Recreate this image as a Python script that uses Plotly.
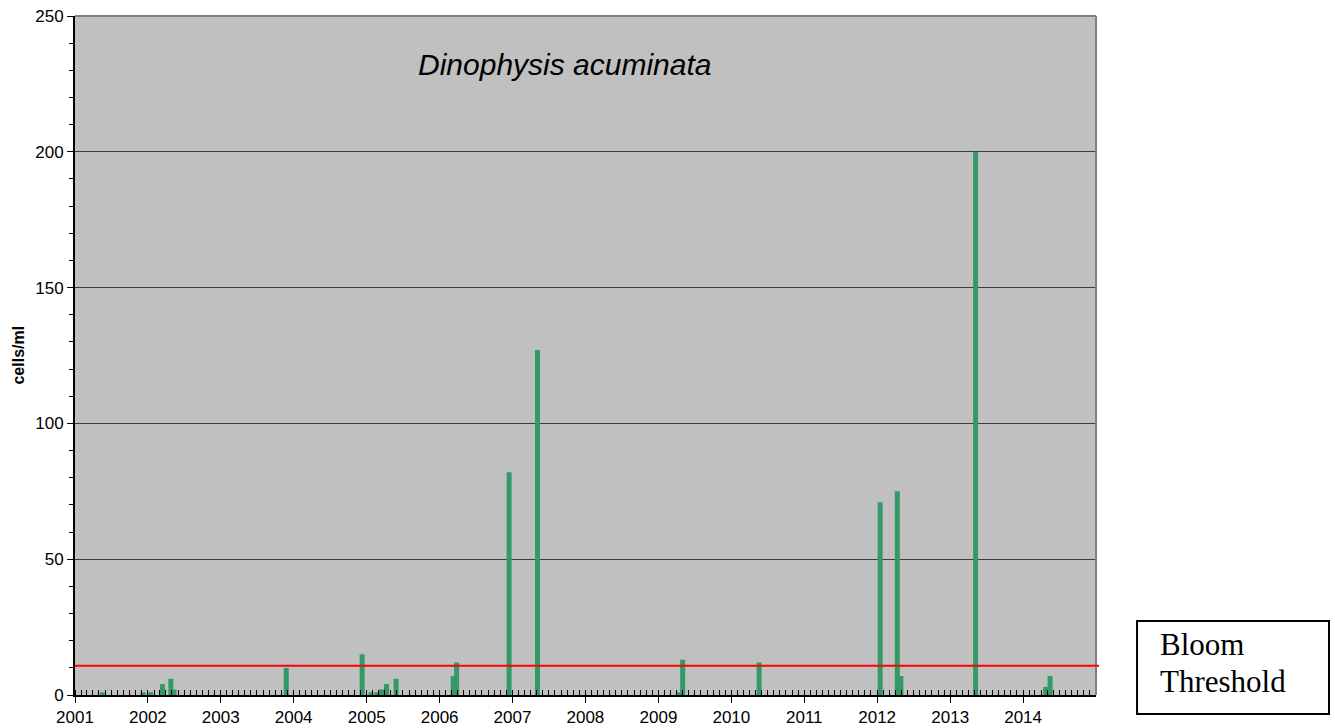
import plotly.graph_objects as go

# Sample dates and Dinophysis acuminata counts (cells/ml)
dates = [
    "2001-05-17", "2001-12-08", "2002-01-15", "2002-03-15", "2002-04-26", "2002-05-12",
    "2003-11-25", "2004-12-09", "2005-01-22", "2005-02-20", "2005-03-16", "2005-04-10",
    "2005-05-28", "2006-03-10", "2006-03-27", "2006-12-15", "2007-05-06", "2009-04-15",
    "2009-05-02", "2010-05-20", "2012-01-16", "2012-04-11", "2012-04-29", "2013-05-08",
    "2014-04-24", "2014-05-16",
]
cells = [
    1, 1, 1, 4, 6, 2,
    10, 15, 1, 1, 2, 4,
    6, 7, 12, 82, 127, 1,
    13, 12, 71, 75, 7, 200,
    3, 7,
]
bloom_threshold = 10.8
year_ticks = [f"{y}-01-01" for y in range(2001, 2015)]
year_labels = [str(y) for y in range(2001, 2015)]

GREEN = "#339966"
BAR_WIDTH_MS = 25 * 86400000

fig = go.Figure()
fig.add_trace(go.Bar(
    x=dates, y=cells, width=[BAR_WIDTH_MS] * len(dates),
    marker=dict(color=GREEN, line=dict(width=0)),
    showlegend=False,
))

fig.update_layout(
    width=1335, height=728,
    margin=dict(l=75, r=239, t=16, b=33, autoexpand=False),
    paper_bgcolor="white",
    plot_bgcolor="#C0C0C0",
    barmode="overlay",
    font=dict(family="Liberation Sans, Arial, sans-serif", size=17, color="black"),
    xaxis=dict(
        type="date",
        range=["2001-01-01", "2015-01-01"],
        tickvals=year_ticks, ticktext=year_labels,
        ticks="outside", ticklen=6, tickwidth=1, tickcolor="black",
        showline=True, linecolor="black", linewidth=2,
        showgrid=False, zeroline=False, automargin=False,
        minor=dict(ticks="inside", dtick="M1", tick0="2001-01-01", ticklen=5,
                   tickwidth=1, tickcolor="black", showgrid=False),
        tickfont=dict(size=17),
    ),
    yaxis=dict(
        range=[0, 250], dtick=50, tick0=0,
        ticks="outside", ticklen=6, tickwidth=1, tickcolor="black",
        showline=True, linecolor="black", linewidth=2,
        showgrid=True, gridcolor="#3c3c3c", gridwidth=1,
        zeroline=False, automargin=False,
        minor=dict(ticks="outside", dtick=10, ticklen=4, tickwidth=1,
                   tickcolor="black", showgrid=False),
        tickfont=dict(size=17),
    ),
    shapes=[
        # top and right plot border
        dict(type="line", xref="paper", yref="paper", x0=0, x1=1, y0=1, y1=1,
             line=dict(color="#808080", width=2)),
        dict(type="line", xref="paper", yref="paper", x0=1, x1=1, y0=0, y1=1,
             line=dict(color="#808080", width=2)),
        # bloom threshold line
        dict(type="line", xref="paper", yref="y", x0=0, x1=1.003,
             y0=bloom_threshold, y1=bloom_threshold,
             line=dict(color="#FF0000", width=2)),
        # legend box
        dict(type="rect", xref="paper", yref="paper", x0=1.0402, x1=1.2282,
             y0=-0.028, y1=0.109, line=dict(color="black", width=2),
             fillcolor="white", layer="above"),
    ],
    annotations=[
        dict(text="<i>Dinophysis acuminata</i>", xref="paper", yref="paper",
             x=0.479, y=0.9293, xanchor="center", yanchor="middle", showarrow=False,
             font=dict(size=30, family="Liberation Sans, Arial, sans-serif")),
        dict(text="<b>cells/ml</b>", xref="paper", yref="paper",
             x=-0.0558, y=0.5, xanchor="center", yanchor="middle", textangle=-90,
             showarrow=False, font=dict(size=16)),
        dict(text="Bloom", xref="paper", yref="paper", x=1.0607, y=0.0744,
             xanchor="left", yanchor="middle", showarrow=False,
             font=dict(size=31, family="Liberation Serif, Times New Roman, serif")),
        dict(text="Threshold", xref="paper", yref="paper", x=1.0607, y=0.0199,
             xanchor="left", yanchor="middle", showarrow=False,
             font=dict(size=31, family="Liberation Serif, Times New Roman, serif")),
    ],
)

fig.write_html("out.html", config={"displayModeBar": False},
               post_script="document.body.style.margin='0';")
